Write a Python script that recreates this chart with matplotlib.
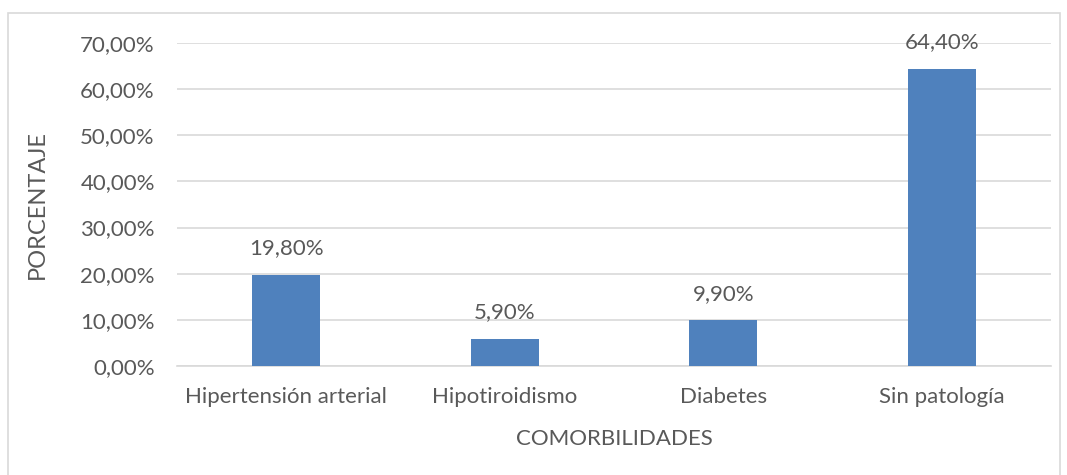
import matplotlib
matplotlib.use("Agg")
import matplotlib.pyplot as plt
from matplotlib.patches import Rectangle

categories = ["Hipertensión arterial", "Hipotiroidismo", "Diabetes", "Sin patología"]
values = [19.8, 5.9, 9.9, 64.4]
yticks = [0, 10, 20, 30, 40, 50, 60, 70]

plt.rcParams['font.family'] = ['Lato', 'DejaVu Sans']
txt = '#595959'
fs = 16

fig = plt.figure(figsize=(10.67, 4.75), dpi=100)
fig.patches.append(Rectangle((8/1067, -0.1), (1060-8)/1067, 1.1 - 13/475,
                             transform=fig.transFigure, fill=False,
                             edgecolor='#d9d9d9', linewidth=1.2))
ax = fig.add_axes([177/1067, 109/475, 874/1067, 323/475])
x = range(len(categories))
ax.bar(x, values, width=0.31, color='#4F81BD', zorder=3)
ax.set_xlim(-0.5, len(categories) - 0.5)
ax.set_ylim(0, 70)
ax.set_yticks(yticks)
ax.set_yticklabels([f"{v:.2f}%".replace('.', ',') for v in yticks], fontsize=fs, color=txt)
ax.set_xticks(list(x))
ax.set_xticklabels(categories, fontsize=fs, color=txt)
ax.tick_params(axis='x', length=0, pad=15)
ax.tick_params(axis='y', length=0, pad=16)
ax.grid(axis='y', color='#d9d9d9', linewidth=1.2, zorder=0)
for s in ax.spines.values():
    s.set_visible(False)
ax.spines['bottom'].set_visible(True)
ax.spines['bottom'].set_color('#d9d9d9')
ax.spines['bottom'].set_linewidth(1.2)
for i, v in enumerate(values):
    ax.annotate(f"{v:.2f}%".replace('.', ','), (i, v), xytext=(0, 12),
                textcoords='offset points', ha='center', va='bottom', fontsize=fs, color=txt)
ax.set_xlabel("COMORBILIDADES", fontsize=fs, color=txt, labelpad=16)
ax.set_ylabel("PORCENTAJE", fontsize=17, color=txt, labelpad=23)
fig.savefig("out.png", dpi=100, facecolor='white')
